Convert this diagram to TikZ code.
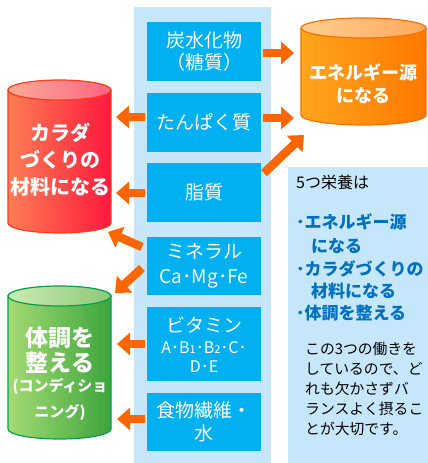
\documentclass[tikz,border=0pt]{standalone}
\usepackage{fontspec}
\setmainfont{Noto Sans CJK JP}
\usetikzlibrary{arrows.meta}
\definecolor{boxblue}{RGB}{0,176,240}
\definecolor{panel}{RGB}{198,231,251}
\definecolor{arrorange}{RGB}{255,102,0}
\definecolor{txtblue}{RGB}{0,112,192}
\definecolor{redL}{RGB}{255,125,85}
\definecolor{redR}{RGB}{255,25,60}
\definecolor{redTL}{RGB}{250,170,150}
\definecolor{redTR}{RGB}{255,100,130}
\definecolor{redO}{RGB}{255,60,30}
\definecolor{orL}{RGB}{255,165,30}
\definecolor{orR}{RGB}{255,120,0}
\definecolor{orTL}{RGB}{255,205,145}
\definecolor{orTR}{RGB}{255,170,90}
\definecolor{orO}{RGB}{255,110,0}
\definecolor{grL}{RGB}{165,218,115}
\definecolor{grR}{RGB}{60,165,60}
\definecolor{grTL}{RGB}{205,235,180}
\definecolor{grTR}{RGB}{140,200,120}
\definecolor{grO}{RGB}{0,160,80}
\tikzset{
  bbox/.style={fill=boxblue, text=white, align=center, minimum width=114pt, inner sep=0pt,
    font=\fontsize{19}{23}\selectfont},
  arr/.style={draw=arrorange, line width=8.5pt, -{Triangle[width=22pt,length=13pt]}},
  cyltext/.style={text=white, align=center, font=\bfseries\fontsize{20}{27}\selectfont, inner sep=0pt},
  bluetxt/.style={text=txtblue, anchor=west, inner sep=0pt, font=\bfseries\fontsize{17}{20}\selectfont},
  blacktxt/.style={text=black, anchor=west, inner sep=0pt},
}
\begin{document}
\begin{tikzpicture}[x=1pt,y=1pt]
\useasboundingbox (0,0) rectangle (428,463);
% panels
\fill[panel] (134,0) rectangle (271,456);
\fill[panel] (288,0) rectangle (428,296);
% blue boxes
\node[bbox, minimum height=59pt, font=\fontsize{19}{22}\selectfont] (b1) at (204,411.5) {炭水化物\\（糖質）};
\node[bbox, minimum height=59pt] (b2) at (204,340.5) {たんぱく質};
\node[bbox, minimum height=59pt] (b3) at (204,270.5) {脂質};
\node[bbox, minimum height=58pt, font=\fontsize{19}{25}\selectfont] (b4) at (204,197) {ミネラル\\Ca･Mg･Fe};
\node[bbox, minimum height=74pt] (b5) at (204,118.5) {ビタミン\\[-2pt]{\fontsize{16}{19}\selectfont A･B{\fontsize{11}{11}\selectfont 1}･B{\fontsize{11}{11}\selectfont 2}･C･}\\[-4pt]{\fontsize{16}{19}\selectfont D･E}};
\node[bbox, minimum height=58pt] (b6) at (204,41) {食物繊維・\\水};
% red cylinder
\shadedraw[left color=redL, right color=redR, draw=redO, line width=1.2pt]
  (8,373) -- (8,240) arc[start angle=180, end angle=360, x radius=51.5pt, y radius=10pt] -- (111,373) -- cycle;
\shadedraw[left color=redTL, right color=redTR, draw=redO, line width=1.2pt]
  (59.5,373) ellipse[x radius=51.5pt, y radius=10pt];
\node[cyltext] (rc) at (60,303) {カラダ\\づくりの\\材料になる};
% orange cylinder
\shadedraw[left color=orL, right color=orR, draw=orO, line width=1.2pt]
  (301,435) -- (301,348) arc[start angle=180, end angle=360, x radius=62.5pt, y radius=10pt] -- (426,435) -- cycle;
\shadedraw[left color=orTL, right color=orTR, draw=orO, line width=1.2pt]
  (363.5,435) ellipse[x radius=62.5pt, y radius=10pt];
\node[cyltext, font=\bfseries\fontsize{18}{23}\selectfont] (oc) at (363,379.5) {エネルギー源\\になる};
% green cylinder
\shadedraw[left color=grL, right color=grR, draw=grO, line width=1.2pt]
  (8,167) -- (8,34) arc[start angle=180, end angle=360, x radius=51.5pt, y radius=10pt] -- (111,167) -- cycle;
\shadedraw[left color=grTL, right color=grTR, draw=grO, line width=1.2pt]
  (59.5,167) ellipse[x radius=51.5pt, y radius=10pt];
\node[cyltext, font=\bfseries\fontsize{23}{25}\selectfont] (gc1) at (60,112.5) {体調を\\整える};
\node[cyltext, font=\bfseries\fontsize{15}{26}\selectfont] (gc2) at (60,63.5) {(コンディショ\\ニング)};
% arrow end coordinates
\coordinate (t1) at (294,410);
\coordinate (t2) at (294,345);
\coordinate (s3) at (264,290);
\coordinate (t3) at (304,328);
\coordinate (t4) at (116,346);
\coordinate (t5) at (116,270);
\coordinate (s6) at (142,216);
\coordinate (t6) at (108,231);
\coordinate (s7) at (142,195);
\coordinate (t7) at (115,170);
\coordinate (t8) at (117,119);
\coordinate (t9) at (117,44);
\draw[arr] (b1.east |- t1) ++(2,0) -- (t1);
\draw[arr] (b2.east |- t2) ++(2,0) -- (t2);
\draw[arr] (s3) -- (t3);
\draw[arr] (b2.west |- t4) ++(-2,0) -- (t4);
\draw[arr] (b3.west |- t5) ++(-2,0) -- (t5);
\draw[arr] (s6) -- (t6);
\draw[arr] (s7) -- (t7);
\draw[arr] (b5.west |- t8) ++(-2,0) -- (t8);
\draw[arr] (b6.west |- t9) ++(-2,0) -- (t9);
% right panel text
\node[blacktxt, font=\fontsize{16}{20}\selectfont] (h) at (296,281) {5つ栄養は};
\node[bluetxt] (l1) at (296,241) {･エネルギー源};
\node[bluetxt] (l2) at (311,217) {になる};
\node[bluetxt] (l3) at (296,194) {･カラダづくりの};
\node[bluetxt] (l4) at (311,172) {材料になる};
\node[bluetxt] (l5) at (296,150) {･体調を整える};
\node[blacktxt, font=\fontsize{14.8}{20}\selectfont, align=left, anchor=north west] (p) at (305,121)
  {この3つの働きを\\しているので、ど\\れも欠かさずバ\\ランスよく摂るこ\\とが大切です。};
\end{tikzpicture}
\end{document}
